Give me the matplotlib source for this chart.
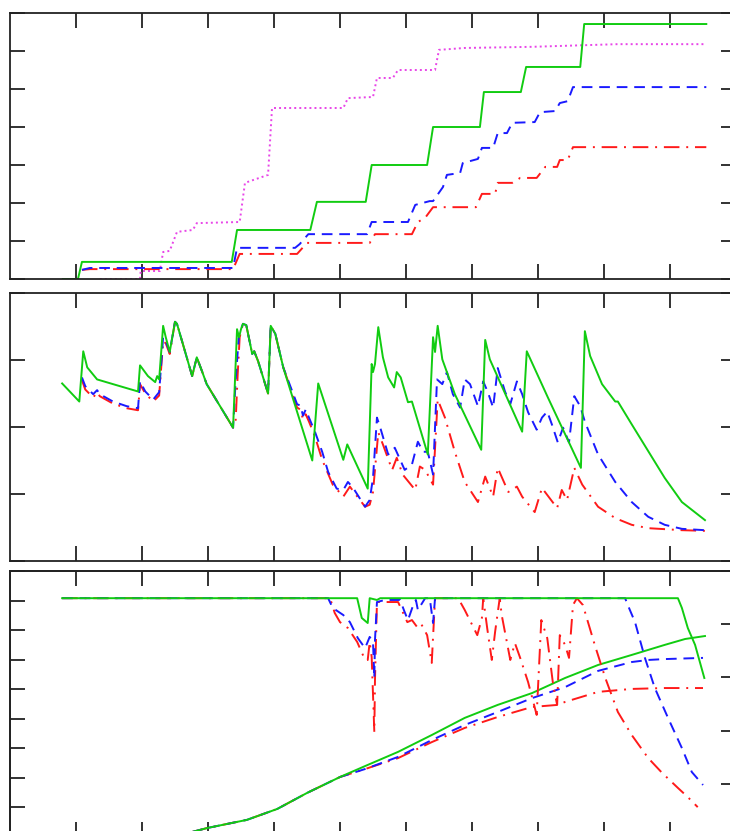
import matplotlib
matplotlib.use("Agg")
import matplotlib.pyplot as plt

# ---------------- data ----------------
# Panel 1: cumulative step curves
p1_green_x = [8.0, 10.3, 10.9, 33.6, 34.4, 45.5, 46.5, 53.9, 54.8, 63.2, 64.1, 71.2, 71.8, 77.4, 78.2, 86.4, 87.0, 105.5]
p1_green_y = [0.0, 0.0, 0.45, 0.45, 1.29, 1.29, 2.03, 2.03, 3.0, 3.0, 4.0, 4.0, 4.92, 4.92, 5.58, 5.58, 6.71, 6.71]

p1_mag_x = [13.6, 19.7, 19.8, 22.7, 23.2, 24.2, 25.3, 27.7, 28.3, 34.8, 35.6, 39.1, 39.7, 50.5, 51.2, 55.0, 55.6,
            58.0, 58.8, 64.4, 65.0, 68.9, 79.1, 92.1, 105.5]
p1_mag_y = [0.0, 0.0, 0.21, 0.21, 0.71, 0.74, 1.24, 1.29, 1.47, 1.5, 2.53, 2.74, 4.5, 4.5, 4.76, 4.79, 5.29,
            5.29, 5.5, 5.5, 6.03, 6.08, 6.11, 6.18, 6.18]

p1_blue_x = [10.9, 12.1, 33.8, 34.4, 43.2, 43.9, 45.2, 54.1, 54.8, 60.3, 61.4, 63.6, 64.1, 65.6, 66.2, 68.2, 68.6,
             70.9, 71.5, 73.2, 73.9, 75.3, 76.1, 79.5, 80.3, 82.6, 83.3, 84.5, 85.3, 105.5]
p1_blue_y = [0.24, 0.29, 0.29, 0.82, 0.82, 0.92, 1.18, 1.18, 1.5, 1.5, 1.95, 2.05, 2.05, 2.42, 2.74, 2.79, 3.05,
             3.16, 3.45, 3.45, 3.84, 3.84, 4.11, 4.13, 4.39, 4.42, 4.63, 4.68, 5.05, 5.05]

p1_red_x = [10.9, 12.1, 33.8, 34.8, 43.5, 45.0, 54.5, 55.3, 60.9, 61.8, 62.9, 64.1, 70.6, 71.5, 73.5, 73.9, 76.1,
            77.3, 79.8, 81.1, 82.9, 83.3, 84.5, 85.3, 105.5]
p1_red_y = [0.24, 0.26, 0.26, 0.66, 0.66, 0.95, 0.95, 1.18, 1.18, 1.5, 1.61, 1.89, 1.89, 2.24, 2.24, 2.53, 2.53,
            2.66, 2.66, 2.95, 2.95, 3.13, 3.13, 3.47, 3.47]

# Panel 2: sawtooth curves
p2_green_x = [7.9, 10.5, 11.1, 11.7, 13.2, 15.6, 19.4, 19.7, 20.9, 22.0, 22.3, 22.6, 23.2, 23.6, 24.2, 25.0, 25.3,
              26.1, 27.6, 28.3, 29.1, 29.8, 33.8, 34.4, 34.7, 35.0, 35.3, 35.8, 36.7, 37.0, 37.6, 39.1, 39.5, 40.2,
              41.4, 45.8, 46.7, 50.5, 51.1, 51.8, 54.2, 54.8, 55.0, 55.3, 55.8, 56.5, 57.3, 58.2, 58.6, 59.2, 60.3,
              60.9, 63.3, 64.1, 64.4, 64.8, 65.5, 67.4, 71.4, 72.0, 72.7, 77.6, 78.3, 81.5, 86.5, 87.1, 87.9, 89.7,
              91.7, 92.1, 94.2, 99.2, 101.8, 105.3]
p2_green_y = [2.65, 2.38, 3.13, 2.89, 2.71, 2.64, 2.53, 2.92, 2.76, 2.67, 2.76, 2.71, 3.51, 3.34, 3.12, 3.57, 3.54,
              3.27, 2.76, 3.04, 2.83, 2.64, 1.99, 3.46, 3.34, 3.46, 3.54, 3.52, 3.09, 3.13, 2.98, 2.50, 3.51, 3.39,
              2.89, 1.50, 2.65, 1.51, 1.74, 1.59, 1.08, 2.94, 2.82, 2.94, 3.49, 3.04, 2.74, 2.59, 2.82, 2.74, 2.37,
              2.38, 1.59, 3.34, 3.12, 3.51, 3.01, 2.49, 1.66, 3.30, 3.01, 1.93, 3.13, 2.44, 1.39, 3.43, 3.06, 2.64,
              2.38, 2.38, 2.04, 1.24, 0.88, 0.61]

p2_blue_x = [10.9, 11.4, 12.6, 13.2, 13.6, 15.6, 17.7, 19.4, 19.7, 20.5, 21.7, 22.6, 23.2, 23.6, 24.2, 25.0, 25.3,
             26.1, 27.6, 28.3, 29.1, 29.8, 33.8, 34.2, 34.7, 35.0, 35.3, 35.8, 36.7, 37.0, 37.6, 39.1, 39.5, 40.2,
             41.4, 43.5, 44.0, 44.4, 44.8, 45.3, 46.2, 47.3, 48.2, 49.5, 50.5, 51.2, 52.0, 53.8, 54.5, 55.0, 55.6,
             56.1, 57.3, 58.3, 59.8, 60.9, 61.8, 62.6, 63.3, 64.1, 64.7, 65.5, 66.2, 67.1, 68.2, 68.9, 69.7, 70.9,
             71.7, 72.4, 73.2, 73.9, 75.0, 75.8, 76.8, 77.6, 78.5, 79.8, 80.6, 81.4, 82.1, 83.0, 83.8, 84.7, 85.5,
             86.4, 87.1, 89.1, 91.7, 94.2, 96.7, 99.2, 101.8, 105.3]
p2_blue_y = [2.74, 2.61, 2.49, 2.55, 2.49, 2.38, 2.31, 2.28, 2.68, 2.53, 2.41, 2.52, 3.34, 3.28, 3.12, 3.57, 3.54,
             3.27, 2.76, 3.04, 2.83, 2.64, 1.99, 2.71, 3.39, 3.46, 3.54, 3.52, 3.09, 3.13, 2.98, 2.50, 3.51, 3.39,
             2.89, 2.34, 2.32, 2.17, 2.26, 2.14, 1.93, 1.63, 1.33, 1.08, 1.06, 1.18, 1.09, 0.81, 0.91, 1.24, 2.14,
             1.99, 1.59, 1.69, 1.36, 1.44, 1.78, 1.63, 1.63, 1.29, 2.71, 2.64, 2.82, 2.49, 2.29, 2.71, 2.64, 2.31,
             2.68, 2.52, 2.29, 2.88, 2.53, 2.34, 2.68, 2.49, 2.22, 1.96, 2.14, 2.23, 2.04, 1.77, 1.99, 1.77, 2.46,
             2.31, 2.08, 1.59, 1.18, 0.88, 0.66, 0.54, 0.48, 0.46]

p2_red_x = [10.9, 11.4, 12.6, 13.2, 13.6, 15.6, 17.7, 19.4, 19.7, 20.5, 21.7, 22.6, 23.2, 23.6, 24.2, 25.0, 25.3,
            26.1, 27.6, 28.3, 29.1, 29.8, 33.8, 34.2, 34.5, 34.8, 35.3, 35.8, 36.7, 37.0, 37.6, 39.1, 39.5, 40.2,
            41.4, 43.5, 44.0, 44.4, 44.8, 45.3, 46.2, 47.3, 48.9, 50.5, 51.5, 52.4, 53.8, 54.5, 55.0, 55.8, 56.5,
            57.9, 58.6, 59.5, 61.4, 62.1, 62.9, 64.1, 64.8, 65.9, 67.4, 68.9, 70.9, 72.0, 73.2, 73.9, 75.5, 76.8,
            77.6, 79.5, 80.6, 82.9, 83.6, 84.4, 85.5, 86.7, 89.1, 91.7, 94.2, 96.7, 101.8, 105.3]
p2_red_y = [2.70, 2.56, 2.44, 2.52, 2.46, 2.35, 2.28, 2.25, 2.64, 2.50, 2.38, 2.47, 3.28, 3.25, 3.09, 3.57, 3.54,
            3.27, 2.76, 3.04, 2.83, 2.64, 1.99, 2.11, 2.79, 3.34, 3.54, 3.52, 3.09, 3.13, 2.98, 2.50, 3.51, 3.39,
            2.89, 2.29, 2.26, 2.11, 2.19, 2.08, 1.86, 1.51, 1.14, 0.96, 1.11, 0.99, 0.81, 0.84, 1.03, 1.92, 1.74,
            1.36, 1.54, 1.29, 1.06, 1.41, 1.36, 1.14, 2.41, 2.14, 1.63, 1.18, 0.88, 1.26, 0.96, 1.39, 1.03, 1.11,
            0.96, 0.73, 1.09, 0.79, 1.06, 0.91, 1.39, 1.14, 0.81, 0.64, 0.54, 0.49, 0.46, 0.45]

# Panel 3: upper group (falls off late) and rising group
p3a_green_x = [7.9, 52.6, 53.3, 54.2, 54.5, 55.6, 56.1, 101.2, 101.8, 102.7, 103.8, 105.2]
p3a_green_y = [8.08, 8.08, 7.41, 7.24, 8.08, 8.02, 8.08, 8.08, 7.75, 7.07, 6.50, 5.38]

p3a_blue_x = [7.9, 48.2, 48.9, 50.5, 51.5, 52.7, 53.8, 54.5, 55.0, 55.2, 55.3, 55.6, 56.8, 59.1, 59.8, 60.3, 61.1,
              61.5, 61.8, 62.9, 63.6, 64.1, 64.4, 93.2, 93.6, 94.7, 96.2, 97.7, 99.7, 101.8, 103.3, 105.0]
p3a_blue_y = [8.08, 8.08, 7.75, 7.51, 7.27, 6.73, 6.39, 6.77, 6.60, 5.38, 6.66, 7.95, 8.02, 8.02, 7.61, 7.34, 7.85,
              8.02, 7.68, 8.08, 8.08, 7.24, 8.08, 8.08, 7.85, 7.27, 6.06, 5.04, 4.03, 3.01, 2.20, 1.76]

p3a_red_x = [7.9, 48.5, 49.2, 50.0, 51.2, 52.6, 53.8, 54.2, 54.5, 54.8, 55.2, 55.3, 55.6, 58.8, 60.2, 60.9, 61.7,
             62.3, 63.2, 63.9, 64.4, 67.9, 68.9, 70.8, 71.5, 71.7, 72.3, 73.0, 73.5, 74.2, 74.5, 75.8, 76.5, 77.3,
             78.5, 79.8, 80.5, 81.4, 82.3, 82.9, 83.3, 84.1, 84.7, 85.3, 85.9, 86.8, 88.6, 90.2, 92.1, 94.2, 96.7,
             98.8, 101.2, 102.7, 104.2]
p3a_red_y = [8.08, 8.08, 7.58, 7.27, 7.07, 6.60, 5.99, 5.99, 6.60, 6.09, 3.55, 5.31, 7.95, 7.95, 7.27, 7.34, 7.10,
             7.21, 6.83, 5.89, 8.08, 8.08, 7.68, 6.83, 7.41, 8.08, 7.07, 5.99, 6.94, 8.08, 7.51, 5.99, 6.56, 6.06,
             5.24, 4.13, 7.34, 6.73, 5.14, 4.47, 6.83, 6.50, 6.06, 7.85, 8.08, 7.85, 6.50, 5.38, 4.23, 3.45, 2.67,
             2.17, 1.66, 1.35, 1.01]

p3b_green_x = [24.7, 27.6, 29.8, 35.9, 40.5, 45.0, 50.0, 53.8, 58.8, 63.9, 68.9, 73.9, 79.1, 84.1, 89.1, 94.2,
               99.2, 102.3, 105.3]
p3b_green_y = [0.0, 0.17, 0.30, 0.58, 0.95, 1.49, 2.03, 2.40, 2.88, 3.45, 4.03, 4.47, 4.87, 5.38, 5.82, 6.16,
               6.50, 6.70, 6.80]

p3b_blue_x = [24.7, 27.6, 29.8, 35.9, 40.5, 45.0, 50.0, 53.8, 58.8, 63.9, 68.9, 73.9, 79.1, 84.1, 89.1, 94.2,
              96.7, 99.2, 105.0]
p3b_blue_y = [0.0, 0.17, 0.30, 0.58, 0.95, 1.49, 2.03, 2.30, 2.71, 3.28, 3.79, 4.23, 4.70, 5.07, 5.62, 5.92,
              5.99, 6.02, 6.06]

p3b_red_x = [24.7, 27.6, 29.8, 35.9, 40.5, 45.0, 50.0, 53.8, 58.8, 63.9, 68.9, 73.9, 79.1, 83.0, 84.1, 89.1, 94.2,
             99.2, 105.0]
p3b_red_y = [0.0, 0.17, 0.30, 0.58, 0.95, 1.49, 2.03, 2.30, 2.67, 3.21, 3.69, 4.06, 4.40, 4.47, 4.57, 4.91, 5.01,
             5.04, 5.04]

x_ticks = [10, 20, 30, 40, 50, 60, 70, 80, 90, 100]

# ---------------- styles ----------------
GREEN = "#11cc11"
BLUE = "#1a1aff"
RED = "#ff1a1a"
MAG = "#e845e8"
LW = 1.4
solid = dict(color=GREEN, lw=LW, linestyle="-")
dashed = dict(color=BLUE, lw=LW, linestyle=(0, (5.5, 3.5)))
dashdot = dict(color=RED, lw=LW, linestyle=(0, (8, 3.5, 1, 3.5)))
dotted = dict(color=MAG, lw=LW, linestyle=(0, (1, 1.6)))

fig = plt.figure(figsize=(7.3, 8.31), dpi=100)

def style(ax, ylim, yticks, right=True):
    ax.set_xlim(0, 110)
    ax.set_ylim(*ylim)
    ax.set_xticks(x_ticks)
    ax.set_yticks(yticks)
    ax.tick_params(direction="in", length=11, width=1.3, color="#222222",
                   top=True, bottom=True, left=True, right=right,
                   labelbottom=False, labelleft=False, labeltop=False, labelright=False)
    for s in ax.spines.values():
        s.set_linewidth(1.3)
        s.set_color("#222222")

W = 726 / 730
L = 10 / 730

ax1 = fig.add_axes([L, 1 - 279 / 831, W, 266 / 831])
style(ax1, (0, 7), range(0, 8))
ax1.plot(p1_mag_x, p1_mag_y, **dotted)
ax1.plot(p1_red_x, p1_red_y, **dashdot)
ax1.plot(p1_blue_x, p1_blue_y, **dashed)
ax1.plot(p1_green_x, p1_green_y, **solid)

ax2 = fig.add_axes([L, 1 - 561 / 831, W, 268 / 831])
style(ax2, (0, 4), range(0, 5))
ax2.plot(p2_red_x, p2_red_y, **dashdot)
ax2.plot(p2_blue_x, p2_blue_y, **dashed)
ax2.plot(p2_green_x, p2_green_y, **solid)

ax3 = fig.add_axes([L, 1 - 837 / 831, W, 266 / 831])
style(ax3, (0, 9), range(0, 10), right=False)
ax3.plot(p3b_red_x, p3b_red_y, **dashdot)
ax3.plot(p3b_blue_x, p3b_blue_y, **dashed)
ax3.plot(p3b_green_x, p3b_green_y, **solid)
ax3.plot(p3a_red_x, p3a_red_y, **dashdot)
ax3.plot(p3a_blue_x, p3a_blue_y, **dashed)
ax3.plot(p3a_green_x, p3a_green_y, **solid)
ax3r = ax3.twinx()
ax3r.set_ylim(0, 5)
ax3r.set_yticks(range(0, 6))
ax3r.tick_params(direction="in", length=11, width=1.3, color="#222222", labelright=False)
for s in ax3r.spines.values():
    s.set_linewidth(1.3)
    s.set_color("#222222")

fig.savefig("out.png", dpi=100)
